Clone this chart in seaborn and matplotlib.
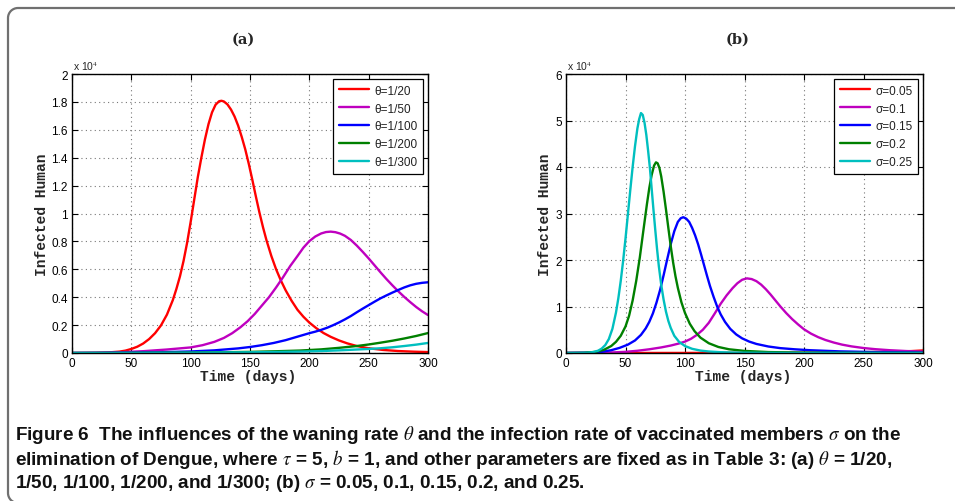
import numpy as np
import pandas as pd
import matplotlib
matplotlib.use("Agg")
import matplotlib.pyplot as plt
import seaborn as sns
from matplotlib.patches import Arc
from matplotlib.lines import Line2D
from matplotlib.transforms import IdentityTransform
from matplotlib.ticker import FuncFormatter, MultipleLocator

# ---------------- data: panel (a), waning rate theta ----------------
labels_a = ["θ=1/20", "θ=1/50", "θ=1/100", "θ=1/200", "θ=1/300"]

day_a_20 = [0, 10, 20, 30, 40, 45, 50, 55, 60, 65, 70, 75, 80, 85, 88, 91, 94, 97, 100, 103, 106,
            109, 112, 115, 118, 121, 124, 126, 128, 131, 134, 137, 140, 143, 146, 149, 152, 155,
            158, 161, 164, 168, 172, 176, 180, 185, 190, 195, 200, 206, 212, 218, 225, 232, 240,
            250, 262, 275, 288, 300]
inf_a_20 = [0, 3, 12, 35, 100, 170, 290, 450, 680, 1000, 1420, 1980, 2750, 3800, 4600, 5500, 6600,
            7900, 9400, 11000, 12600, 14000, 15300, 16400, 17250, 17800, 18050, 18080, 18030,
            17820, 17450, 16950, 16300, 15500, 14600, 13550, 12400, 11200, 10050, 9000, 8050,
            6950, 6000, 5200, 4500, 3750, 3100, 2600, 2180, 1770, 1430, 1160, 900, 690, 500, 340,
            220, 140, 95, 65]

day_a_50 = [0, 20, 40, 60, 80, 100, 110, 120, 128, 135, 142, 148, 154, 160, 166, 172, 178, 184, 190,
            195, 200, 205, 210, 214, 218, 222, 226, 230, 235, 240, 245, 250, 255, 260, 265, 270,
            275, 280, 285, 290, 295, 300]
inf_a_50 = [0, 10, 50, 130, 250, 400, 560, 800, 1080, 1420, 1850, 2280, 2800, 3400, 4000, 4700,
            5450, 6250, 6950, 7550, 8020, 8350, 8570, 8670, 8700, 8660, 8560, 8400, 8100, 7700,
            7250, 6780, 6280, 5780, 5300, 4850, 4420, 4020, 3650, 3300, 2990, 2720]

day_a_100 = [0, 25, 50, 75, 100, 120, 140, 150, 160, 170, 180, 190, 200, 205, 210, 215, 220, 225,
             230, 235, 240, 245, 250, 255, 260, 265, 270, 275, 280, 285, 290, 295, 300]
inf_a_100 = [0, 8, 25, 55, 110, 190, 330, 430, 560, 720, 920, 1170, 1420, 1530, 1660, 1810, 1990,
             2190, 2410, 2650, 2920, 3180, 3430, 3680, 3920, 4130, 4330, 4520, 4700, 4850, 4960,
             5030, 5070]

day_a_200 = [0, 50, 100, 125, 150, 170, 192, 210, 225, 240, 250, 260, 270, 280, 290, 300]
inf_a_200 = [0, 10, 30, 50, 80, 120, 175, 260, 370, 500, 610, 740, 880, 1040, 1220, 1430]

day_a_300 = [0, 50, 100, 125, 150, 170, 192, 210, 225, 240, 250, 260, 270, 280, 290, 300]
inf_a_300 = [0, 5, 20, 35, 50, 70, 100, 140, 190, 250, 290, 340, 410, 500, 600, 720]

# ---------------- data: panel (b), infection rate sigma ----------------
labels_b = ["σ=0.05", "σ=0.1", "σ=0.15", "σ=0.2", "σ=0.25"]

day_b_005 = [0, 50, 100, 150, 200, 230, 250, 265, 280, 290, 300]
inf_b_005 = [0, 5, 15, 35, 80, 130, 180, 240, 320, 410, 550]

day_b_01 = [0, 20, 40, 50, 60, 70, 80, 88, 95, 100, 105, 110, 115, 120, 125, 130, 135, 140, 144,
            148, 152, 156, 160, 164, 168, 172, 176, 180, 185, 190, 195, 200, 206, 212, 218, 225,
            232, 240, 250, 260, 272, 286, 300]
inf_b_01 = [0, 30, 130, 250, 480, 800, 1200, 1600, 2050, 2450, 3050, 3900, 5000, 6500, 8500, 10600,
            12400, 13950, 15000, 15750, 16050, 15900, 15450, 14700, 13700, 12550, 11300, 10050,
            8600, 7300, 6150, 5100, 4150, 3400, 2800, 2250, 1800, 1420, 1070, 820, 600, 420, 300]

day_b_015 = [0, 20, 30, 38, 45, 52, 58, 63, 67, 70, 73, 76, 79, 82, 85, 88, 91, 94, 96.5, 98.6,
             101, 103.5, 106, 108.5, 111, 113.5, 116, 118.5, 121, 124, 127, 130, 133.6, 138, 143,
             148, 154, 160, 170, 180, 192, 205, 230, 260, 300]
inf_b_015 = [0, 60, 250, 600, 1100, 1800, 2700, 3900, 5300, 6700, 8500, 10800, 13500, 16700, 20100,
             23400, 26200, 28200, 29000, 29200, 28900, 28200, 26900, 25300, 23400, 21200, 18900,
             16600, 14400, 12100, 10000, 8300, 6700, 5200, 4000, 3150, 2450, 1950, 1400, 1050,
             800, 600, 350, 200, 110]

day_b_02 = [0, 15, 25, 32, 38, 42, 46, 50, 53, 56, 59, 62, 65, 68, 70, 72, 74, 75.6, 77, 78.5, 80,
            82, 84, 86, 88, 90, 92, 94, 97, 100, 104, 108, 113, 120, 128, 137, 150, 170, 200, 250,
            300]
inf_b_02 = [0, 40, 250, 700, 1500, 2400, 3700, 5700, 8000, 11300, 15500, 20500, 26300, 32000,
            35500, 38300, 40300, 41000, 40800, 39800, 38000, 34700, 30900, 26900, 23000, 19500,
            16500, 14000, 10900, 8600, 6300, 4700, 3300, 2100, 1300, 800, 450, 200, 80, 30, 15]

day_b_025 = [0, 10, 18, 23, 27, 30, 33, 36, 39, 42, 44, 46, 48, 50, 52, 54, 56, 58, 60, 61.5, 63,
             64.5, 66, 67.5, 69, 70.5, 72, 73.5, 75, 76.5, 78, 80, 82, 84, 86, 88, 91, 95, 100,
             106, 113, 120, 130, 145, 170, 220, 300]
inf_b_025 = [0, 10, 60, 200, 500, 950, 1700, 3000, 5200, 8700, 11800, 15500, 19800, 24600, 29800,
             35000, 40000, 44500, 48300, 50300, 51600, 51200, 49500, 46900, 43500, 39800, 35300,
             30800, 26500, 22400, 18700, 14700, 11500, 8900, 6900, 5400, 3700, 2400, 1500, 900,
             520, 320, 170, 80, 30, 10, 5]

colors = ["#ff0000", "#bf00bf", "#0000ff", "#008000", "#00bfbf"]

series_a = [(day_a_20, inf_a_20), (day_a_50, inf_a_50), (day_a_100, inf_a_100),
            (day_a_200, inf_a_200), (day_a_300, inf_a_300)]
series_b = [(day_b_005, inf_b_005), (day_b_01, inf_b_01), (day_b_015, inf_b_015),
            (day_b_02, inf_b_02), (day_b_025, inf_b_025)]

# ---------------- style ----------------
sns.set_style("ticks")
plt.rcParams["font.family"] = ["Liberation Sans", "DejaVu Sans"]
plt.rcParams["mathtext.fontset"] = "stix"

W, H = 955, 502
fig = plt.figure(figsize=(W / 100, H / 100), dpi=100)
fig.patch.set_facecolor("white")


def px_axes(left, top, right, bottom):
    return [left / W, (H - bottom) / H, (right - left) / W, (bottom - top) / H]


def draw_panel(ax, series, labels, ymax, ystep, title, title_x, ylab_x, xlab_x, offs_x):
    for (d, v), lab, c in zip(series, labels, colors):
        df = pd.DataFrame({"day": d, "val": v})
        sns.lineplot(data=df, x="day", y="val", ax=ax, color=c, linewidth=1.7, label=lab,
                     estimator=None)
    for ln in ax.get_lines():
        ln.set_solid_joinstyle("round")
        ln.set_solid_capstyle("round")
    ax.set_xlim(0, 300)
    ax.set_ylim(0, ymax)
    ax.xaxis.set_major_locator(MultipleLocator(50))
    ax.yaxis.set_major_locator(MultipleLocator(ystep))
    ax.yaxis.set_major_formatter(FuncFormatter(lambda v, p: "%g" % round(v / 1e4, 3)))
    ax.tick_params(direction="in", top=True, right=True, length=4, width=0.8,
                   labelsize=8.5, pad=3, colors="black")
    for s in ax.spines.values():
        s.set_linewidth(1.0)
        s.set_color("black")
    ax.grid(True, linestyle=(0, (1, 3)), color="#777777", linewidth=0.8)
    ax.set_axisbelow(True)
    ax.set_xlabel("")
    ax.set_ylabel("")
    leg = ax.legend(loc="upper right", frameon=True, fancybox=False, fontsize=8.5,
                    handlelength=2.6, handletextpad=0.4, borderpad=0.45, labelspacing=0.5,
                    borderaxespad=0.45, edgecolor="black", framealpha=1)
    leg.get_frame().set_linewidth(0.9)
    for t in leg.get_texts():
        t.set_color("#222222")
    fig.text(title_x / W, 1 - 40 / H, title, ha="center", va="center",
             family="DejaVu Serif", fontweight="bold", fontsize=10.5)
    fig.text(ylab_x / W, 1 - 215 / H, "Infected Human", rotation=90, ha="center", va="center",
             family="Liberation Mono", fontweight="bold", fontsize=10.5)
    fig.text(xlab_x / W, 1 - 377 / H, "Time (days)", ha="center", va="center",
             family="Liberation Mono", fontweight="bold", fontsize=10.5)
    fig.text(offs_x / W, 1 - 67 / H, r"x 10$^{4}$", ha="left", va="center", fontsize=7.5)


ax_a = fig.add_axes(px_axes(72, 75, 428, 354))
draw_panel(ax_a, series_a, labels_a, 20000, 2000, "(a)", 243, 42, 248, 73)

ax_b = fig.add_axes(px_axes(566, 75, 923, 354))
draw_panel(ax_b, series_b, labels_b, 60000, 10000, "(b)", 738, 545, 743, 567)

# ---------------- caption ----------------
cap_font = ["Liberation Sans Narrow", "Liberation Sans", "DejaVu Sans"]
cap_lines = [
    r"Figure 6  The influences of the waning rate $\theta$ and the infection rate of vaccinated members $\sigma$ on the",
    r"elimination of Dengue, where $\tau$ = 5, $b$ = 1, and other parameters are fixed as in Table 3: (a) $\theta$ = 1/20,",
    r"1/50, 1/100, 1/200, and 1/300; (b) $\sigma$ = 0.05, 0.1, 0.15, 0.2, and 0.25.",
]
for i, line in enumerate(cap_lines):
    fig.text(15 / W, 1 - (435 + 24.5 * i) / H, line, ha="left", va="center",
             family=cap_font, fontweight="bold", fontsize=13.6, color="#111111")

# ---------------- rounded frame (open on the right and bottom) ----------------
fc, fw = "#707070", 1.6
r = 10
top_y, left_x, bot_y = 9, 8, 494
idt = IdentityTransform()
fig.add_artist(Line2D([left_x + r, W + 20], [H - top_y, H - top_y], color=fc, lw=fw,
                      transform=idt, solid_capstyle="butt"))
fig.add_artist(Line2D([left_x, left_x], [H - top_y - r, H - bot_y], color=fc, lw=fw,
                      transform=idt, solid_capstyle="butt"))
fig.add_artist(Arc((left_x + r, H - top_y - r), 2 * r, 2 * r, theta1=90, theta2=180,
                   color=fc, lw=fw, transform=idt))
fig.add_artist(Arc((left_x + r, H - bot_y), 2 * r, 2 * r, theta1=180, theta2=270,
                   color=fc, lw=fw, transform=idt))

fig.savefig("out.png", dpi=100, facecolor="white")
